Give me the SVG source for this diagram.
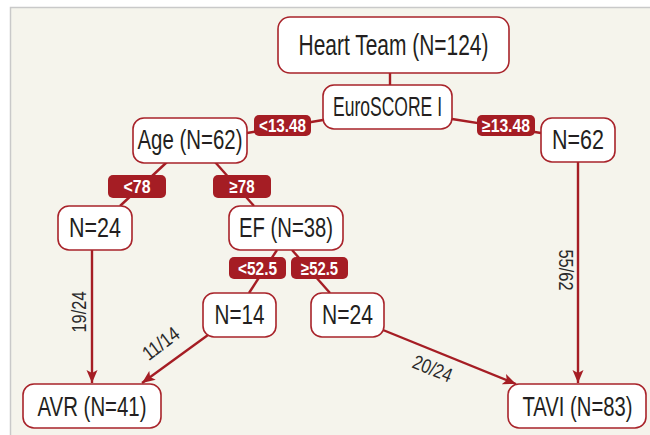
<svg xmlns="http://www.w3.org/2000/svg" width="650" height="435" viewBox="0 0 650 435">
<defs>
<style>
.bg{fill:#f5f4ec;stroke:#c9c9c9;stroke-width:1.5}
.box{fill:#ffffff;stroke:#a8232a;stroke-width:1.6}
.nt{font-family:"Liberation Sans Narrow","Liberation Sans",Arial,sans-serif;font-size:27px;fill:#231f20;text-anchor:middle}
.lab{fill:#a51d24}
.lt{font-family:"Liberation Sans Narrow","Liberation Sans",Arial,sans-serif;font-size:18px;font-weight:bold;fill:#ffffff;text-anchor:middle}
.ln{stroke:#a51d24;stroke-width:2.4;fill:none}
.et{font-family:"Liberation Sans Narrow","Liberation Sans",Arial,sans-serif;font-size:20px;fill:#2a2a2a;text-anchor:middle}
</style>
<marker id="arr" markerUnits="userSpaceOnUse" markerWidth="14" markerHeight="12" refX="13" refY="6" orient="auto">
<path d="M0,0.5 L13,6 L0,11.5 L3,6 z" fill="#a51d24"/>
</marker>
</defs>
<rect x="0" y="0" width="650" height="435" fill="#ffffff"/>
<rect class="bg" x="10.5" y="7.5" width="650" height="440"/>
<g id="connectors">
<line class="ln" x1="390" y1="73" x2="390" y2="85"/>
<line class="ln" x1="323" y1="120" x2="247" y2="133"/>
<line class="ln" x1="452" y1="119" x2="541" y2="133"/>
<line class="ln" x1="167" y1="162" x2="120" y2="206"/>
<line class="ln" x1="215" y1="162" x2="254" y2="206"/>
<line class="ln" x1="277" y1="250" x2="249" y2="293"/>
<line class="ln" x1="292" y1="250" x2="330" y2="293"/>
<line class="ln" x1="92" y1="250" x2="92" y2="383" marker-end="url(#arr)"/>
<line class="ln" x1="208" y1="335" x2="142" y2="383" marker-end="url(#arr)"/>
<line class="ln" x1="383" y1="330" x2="516" y2="384" marker-end="url(#arr)"/>
<line class="ln" x1="578" y1="162" x2="578" y2="383" marker-end="url(#arr)"/>
<text class="et" transform="translate(86,312) rotate(-90)" textLength="41" lengthAdjust="spacingAndGlyphs">19/24</text>
<text class="et" transform="translate(165,349) rotate(-37)" textLength="41" lengthAdjust="spacingAndGlyphs">11/14</text>
<text class="et" transform="translate(430,375) rotate(22)" textLength="41" lengthAdjust="spacingAndGlyphs">20/24</text>
<text class="et" transform="translate(559,270) rotate(90)" textLength="41" lengthAdjust="spacingAndGlyphs">55/62</text>
<rect class="lab" x="254" y="115" width="57" height="21" rx="5"/>
<text class="lt" x="282.5" y="132" textLength="47" lengthAdjust="spacingAndGlyphs">&lt;13.48</text>
<rect class="lab" x="477" y="115" width="58" height="21" rx="5"/>
<text class="lt" x="506" y="132" textLength="48" lengthAdjust="spacingAndGlyphs">≥13.48</text>
<rect class="lab" x="108" y="175" width="58" height="23" rx="5"/>
<text class="lt" x="137" y="193" textLength="27" lengthAdjust="spacingAndGlyphs">&lt;78</text>
<rect class="lab" x="213" y="175" width="58" height="23" rx="5"/>
<text class="lt" x="242" y="193" textLength="25" lengthAdjust="spacingAndGlyphs">≥78</text>
<rect class="lab" x="229" y="257" width="57" height="22" rx="5"/>
<text class="lt" x="257.5" y="274.5" textLength="39" lengthAdjust="spacingAndGlyphs">&lt;52.5</text>
<rect class="lab" x="291" y="257" width="57" height="22" rx="5"/>
<text class="lt" x="319.5" y="274.5" textLength="37" lengthAdjust="spacingAndGlyphs">≥52.5</text>
</g>
<g id="heart"><rect class="box" x="278" y="17" width="231" height="56" rx="12"/><text class="nt" x="393.5" y="55" style="font-size:30px" textLength="190" lengthAdjust="spacingAndGlyphs">Heart Team (N=124)</text></g>
<g id="euro"><rect class="box" x="323" y="85" width="129" height="44" rx="11"/><text class="nt" x="387.5" y="116" textLength="109" lengthAdjust="spacingAndGlyphs">EuroSCORE I</text></g>
<g id="age"><rect class="box" x="133" y="118" width="114" height="45" rx="11"/><text class="nt" x="190" y="149" textLength="105" lengthAdjust="spacingAndGlyphs">Age (N=62)</text></g>
<g id="n62"><rect class="box" x="541" y="118" width="74" height="44" rx="11"/><text class="nt" x="578" y="149" textLength="52" lengthAdjust="spacingAndGlyphs">N=62</text></g>
<g id="n24a"><rect class="box" x="58" y="206" width="74" height="44" rx="11"/><text class="nt" x="95" y="237" textLength="52" lengthAdjust="spacingAndGlyphs">N=24</text></g>
<g id="ef"><rect class="box" x="229" y="206" width="114" height="44" rx="11"/><text class="nt" x="286" y="237" textLength="94" lengthAdjust="spacingAndGlyphs">EF (N=38)</text></g>
<g id="n14"><rect class="box" x="203" y="293" width="73" height="44" rx="11"/><text class="nt" x="239.5" y="324" textLength="50" lengthAdjust="spacingAndGlyphs">N=14</text></g>
<g id="n24b"><rect class="box" x="311" y="293" width="73" height="44" rx="11"/><text class="nt" x="347.5" y="324" textLength="51" lengthAdjust="spacingAndGlyphs">N=24</text></g>
<g id="avr"><rect class="box" x="23" y="384" width="138" height="44" rx="11"/><text class="nt" x="92" y="416" textLength="109" lengthAdjust="spacingAndGlyphs">AVR (N=41)</text></g>
<g id="tavi"><rect class="box" x="508" y="384" width="138" height="44" rx="11"/><text class="nt" x="577.5" y="416" textLength="110" lengthAdjust="spacingAndGlyphs">TAVI (N=83)</text></g>
</svg>
